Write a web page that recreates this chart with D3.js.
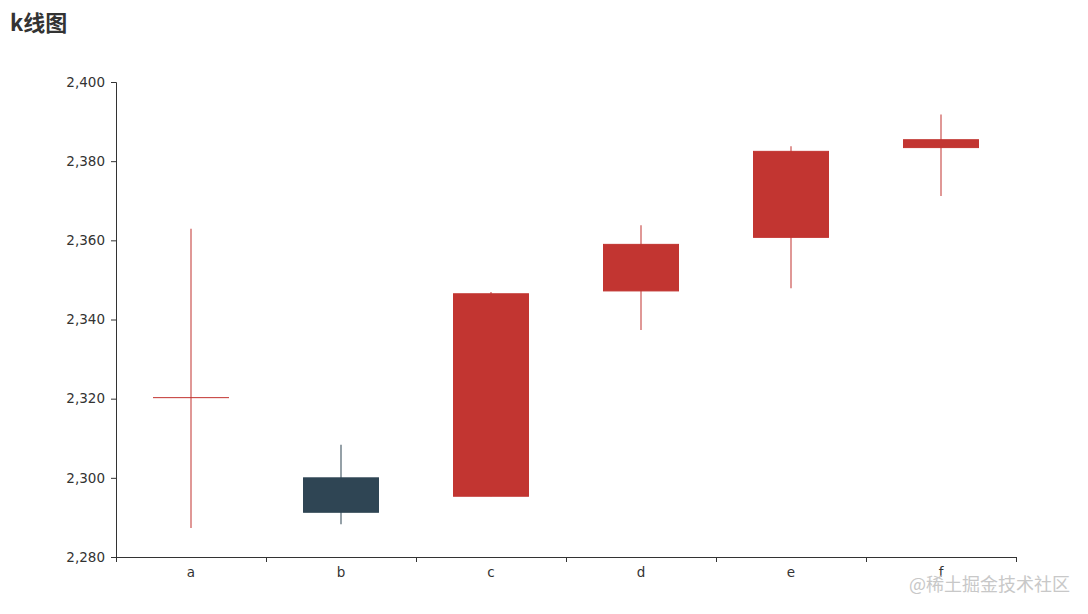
<!DOCTYPE html>
<html>
<head>
<meta charset="utf-8">
<script src="https://cdn.jsdelivr.net/npm/d3@7"></script>
<style>
  body { margin: 0; background: #fff; }
  svg { display: block; font-family: "DejaVu Sans", "Noto Sans CJK SC", sans-serif; }
</style>
</head>
<body>
<div id="chart"></div>
<script>
const categories = ['a', 'b', 'c', 'd', 'e', 'f'];
// [open, close, low, high]
const open_values = [2320.26, 2300, 2295.35, 2347.22, 2360.75, 2383.43];
const close_values = [2320.26, 2291.3, 2346.5, 2358.98, 2382.48, 2385.42];
const low_values = [2287.3, 2288.26, 2295.35, 2337.35, 2347.89, 2371.23];
const high_values = [2362.94, 2308.38, 2346.92, 2363.8, 2383.76, 2391.82];
const y_ticks = [2280, 2300, 2320, 2340, 2360, 2380, 2400];

(function() {
    const width = 1088, height = 614;
    const margins = {top: 82, right: 72, bottom: 57, left: 116};
    const up_color = '#c23531', down_color = '#2f4554';
    const label_font = 13.5;

    const candles = categories.map((c, i) => ({
        name: c,
        open: open_values[i],
        close: close_values[i],
        low: low_values[i],
        high: high_values[i]
    }));

    let svg = d3.select('#chart').append('svg')
        .attr('width', width)
        .attr('height', height);

    let inner_w = width - margins.left - margins.right,
        inner_h = height - margins.top - margins.bottom;

    let x = d3.scaleBand().domain(categories).range([0, inner_w]);
    let y = d3.scaleLinear().domain([2280, 2400]).range([inner_h, 0]);

    svg.append('text')
        .attr('x', 10)
        .attr('y', 31)
        .attr('font-size', 22)
        .attr('font-weight', 'bold')
        .attr('font-family', '"Noto Sans CJK SC", sans-serif')
        .attr('fill', '#333')
        .text('k线图');

    let g = svg.append('g')
        .attr('transform', 'translate(' + margins.left + ',' + margins.top + ')');

    let xaxis = g.append('g')
        .attr('transform', 'translate(0,' + inner_h + ')')
        .call(d3.axisBottom(x).tickSize(0).tickPadding(10));
    xaxis.select('.domain').attr('stroke', '#333');
    xaxis.selectAll('text')
        .attr('fill', '#333')
        .attr('font-size', label_font)
        .attr('font-family', '"DejaVu Sans", sans-serif');
    xaxis.selectAll('.band-tick')
        .data(d3.range(categories.length + 1))
        .enter().append('line')
        .attr('x1', (d) => Math.round(d * x.step()) + 0.5)
        .attr('x2', (d) => Math.round(d * x.step()) + 0.5)
        .attr('y1', 0)
        .attr('y2', 5)
        .attr('stroke', '#333');

    let yaxis = g.append('g')
        .call(d3.axisLeft(y).tickValues(y_ticks).tickSize(5).tickPadding(6)
            .tickFormat(d3.format(',')));
    yaxis.select('.domain').attr('stroke', '#333');
    yaxis.selectAll('line').attr('stroke', '#333');
    yaxis.selectAll('text')
        .attr('fill', '#333')
        .attr('font-size', label_font)
        .attr('font-family', '"DejaVu Sans", sans-serif');

    let box_w = x.step() / 2;
    let color = (d) => d.close >= d.open ? up_color : down_color;

    let c = g.selectAll('.candle')
        .data(candles)
        .enter().append('g')
        .attr('class', 'candle')
        .attr('transform', (d) => 'translate(' + (x(d.name) + x.bandwidth() / 2) + ',0)');

    c.append('line')
        .attr('y1', (d) => y(d.high))
        .attr('y2', (d) => y(d.low))
        .attr('stroke', color)
        .attr('stroke-opacity', 0.85)
        .attr('stroke-width', 1.2);

    c.append('rect')
        .attr('x', -box_w / 2)
        .attr('y', (d) => y(Math.max(d.open, d.close)))
        .attr('width', box_w)
        .attr('height', (d) => Math.max(0.01, Math.abs(y(d.open) - y(d.close))))
        .attr('fill', color)
        .attr('stroke', color)
        .attr('stroke-width', 1);

    svg.append('text')
        .attr('x', 1070)
        .attr('y', 591)
        .attr('text-anchor', 'end')
        .attr('font-size', 18)
        .attr('font-family', '"Noto Sans CJK SC", sans-serif')
        .attr('fill', '#c8c8c8')
        .text('@稀土掘金技术社区');
}());
</script>
</body>
</html>
